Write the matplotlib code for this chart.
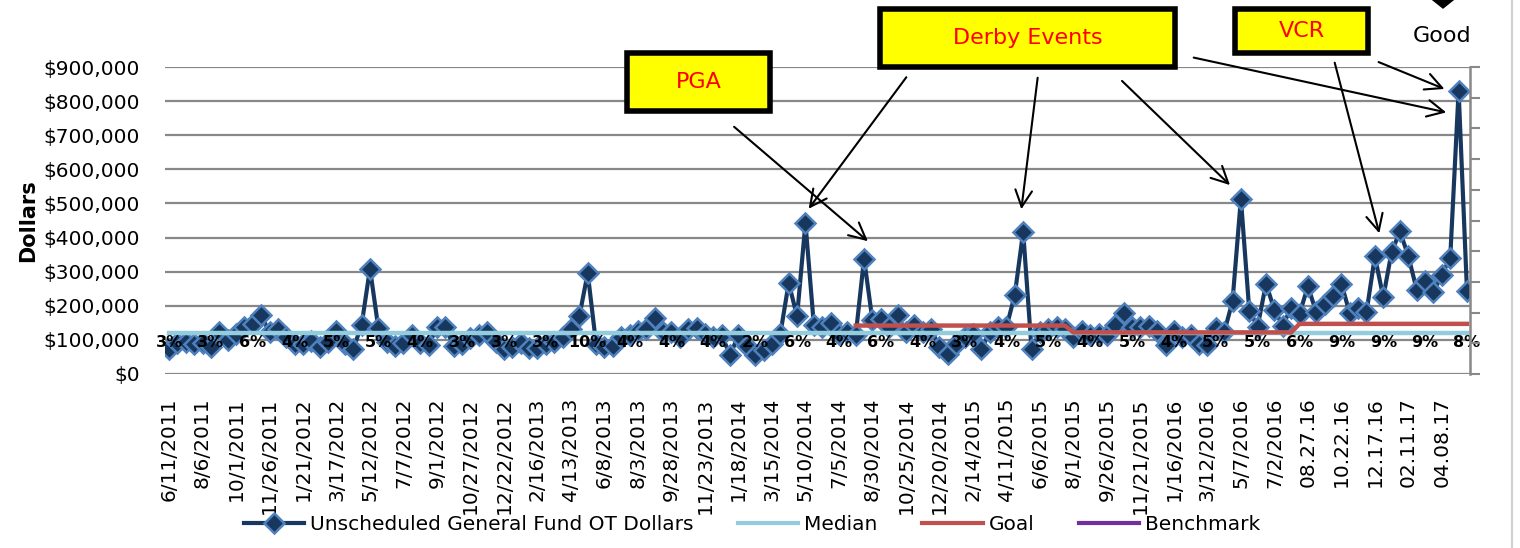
import matplotlib
matplotlib.use("Agg")
import matplotlib.pyplot as plt
from matplotlib.lines import Line2D
from matplotlib.patches import Rectangle, Polygon
from matplotlib.ticker import FuncFormatter

# OT dollars per pay period (in $1,000)
ot_k = [72, 90, 95, 88, 90, 80, 122, 100, 117, 137, 147, 172, 122, 132, 108, 88,
        88, 98, 78, 95, 127, 88, 73, 144, 309, 134, 95, 83, 90, 115, 90, 85,
        137, 137, 83, 88, 105, 115, 122, 95, 73, 78, 90, 75, 75, 88, 95, 108,
        132, 169, 296, 88, 78, 83, 108, 115, 127, 132, 165, 122, 122, 108, 132, 134,
        117, 108, 113, 56, 113, 83, 56, 69, 88, 117, 267, 169, 443, 145, 137, 149,
        117, 122, 113, 338, 157, 162, 137, 172, 122, 145, 122, 132, 78, 59, 88, 108,
        117, 73, 122, 137, 137, 232, 417, 73, 122, 132, 137, 132, 108, 125, 113, 117,
        113, 145, 178, 139, 137, 142, 127, 86, 125, 108, 113, 88, 86, 134, 122, 213,
        514, 186, 139, 265, 188, 142, 194, 176, 257, 181, 206, 230, 265, 178, 194, 181,
        345, 225, 358, 418, 345, 247, 274, 240, 291, 341, 830, 243]
ot = [v * 1000 for v in ot_k]
n = len(ot)

median_val = 121000
# goal changes over time: (start index, end index, value)
goal_steps = [(82, 107, 142000), (108, 134, 122000), (135, 155, 147000)]

pct_labels = ["3%", "3%", "6%", "4%", "5%", "5%", "4%", "3%", "3%", "3%", "10%",
              "4%", "4%", "4%", "2%", "6%", "4%", "6%", "4%", "3%", "4%", "5%",
              "4%", "5%", "4%", "5%", "5%", "6%", "9%", "9%", "9%", "8%"]
pct_every = 5

date_labels = ["6/11/2011", "8/6/2011", "10/1/2011", "11/26/2011", "1/21/2012",
               "3/17/2012", "5/12/2012", "7/7/2012", "9/1/2012", "10/27/2012",
               "12/22/2012", "2/16/2013", "4/13/2013", "6/8/2013", "8/3/2013",
               "9/28/2013", "11/23/2013", "1/18/2014", "3/15/2014", "5/10/2014",
               "7/5/2014", "8/30/2014", "10/25/2014", "12/20/2014", "2/14/2015",
               "4/11/2015", "6/6/2015", "8/1/2015", "9/26/2015", "11/21/2015",
               "1/16/2016", "3/12/2016", "5/7/2016", "7/2/2016", "08.27.16",
               "10.22.16", "12.17.16", "02.11.17", "04.08.17"]
label_every = 4

W, H = 1520, 548
fig = plt.figure(figsize=(W / 100, H / 100), dpi=100)
ax = fig.add_axes([165 / W, 1 - 374 / H, 1305 / W, 307 / H])

def px(x, y):
    # pixel position from top-left -> figure fraction
    return (x / W, 1 - y / H)

x = list(range(n))
ax.plot(x, ot, color="#17375E", lw=3, marker="D", ms=10,
        mfc="#17375E", mec="#4F81BD", mew=1.8, zorder=3,
        label="Unscheduled General Fund OT Dollars")
ax.plot([0, n - 1], [median_val, median_val], color="#93CDDD", lw=3.2,
        zorder=4, label="Median")
gx, gy = [], []
for s, e, v in goal_steps:
    gx += [s, e]
    gy += [v, v]
ax.plot(gx, gy, color="#C0504D", lw=3.2, zorder=5, label="Goal")

for k, lab in enumerate(pct_labels):
    ax.text(k * pct_every, 91000, lab, ha="center", va="center",
            fontsize=11.5, fontweight="bold", zorder=6)

ax.set_xlim(-0.48, 155.36)
ax.set_ylim(0, 900000)
ax.set_yticks(range(0, 900001, 100000))
ax.yaxis.set_major_formatter(FuncFormatter(lambda v, p: "${:,.0f}".format(v)))
ax.set_xticks(range(0, len(date_labels) * label_every, label_every))
ax.set_xticklabels(date_labels, rotation=90, fontsize=14.5)
ax.tick_params(axis="y", length=0, pad=18, labelsize=14.5)
ax.tick_params(axis="x", length=0, pad=17)
ax.grid(axis="y", color="#888888", lw=1.6)
ax.set_axisbelow(True)
for sp in ax.spines.values():
    sp.set_visible(False)
ax.set_ylabel("Dollars", fontsize=15, fontweight="bold")
ax.yaxis.set_label_coords(-0.097, 0.5)

# secondary axis without labels
ax2 = ax.twinx()
ax2.set_ylim(0, 10)
ax2.set_yticks(range(11))
ax2.set_yticklabels([])
ax2.tick_params(axis="y", direction="out", length=7, width=1.5, color="#888888")
for sp in ["top", "left", "bottom"]:
    ax2.spines[sp].set_visible(False)
ax2.spines["right"].set_color("#888888")
ax2.spines["right"].set_linewidth(1.8)

handles = [Line2D([], [], color="#17375E", lw=3, marker="D", ms=10,
                  mfc="#17375E", mec="#4F81BD", mew=1.8),
           Line2D([], [], color="#93CDDD", lw=3),
           Line2D([], [], color="#C0504D", lw=3),
           Line2D([], [], color="#7030A0", lw=3)]
names = ["Unscheduled General Fund OT Dollars", "Median", "Goal", "Benchmark"]
fig.legend(handles, names, loc="center", bbox_to_anchor=px(752, 525), ncol=4,
           frameon=False, fontsize=14.5, handlelength=3.0, handletextpad=0.3,
           columnspacing=2.2)

# callout boxes
boxes = [("PGA", 627, 53, 143, 58),
         ("Derby Events", 880, 9, 295, 58),
         ("VCR", 1235, 9, 133, 44)]
for txt, bx, by, bw, bh in boxes:
    fig.patches.append(Rectangle(px(bx, by + bh), bw / W, bh / H,
                                 transform=fig.transFigure, facecolor="#FFFF00",
                                 edgecolor="black", lw=4))
    fig.text(*px(bx + bw / 2, by + bh / 2), txt, color="red", fontsize=16,
             ha="center", va="center")

arrows = [((732, 125), (870, 243)),
          ((908, 75), (807, 211)),
          ((1038, 75), (1021, 212)),
          ((1120, 79), (1232, 187)),
          ((1191, 57), (1449, 113)),
          ((1334, 60), (1380, 236)),
          ((1376, 61), (1447, 90))]
for tail, head in arrows:
    fig.add_artist(matplotlib.patches.FancyArrowPatch(
        px(*tail), px(*head), transform=fig.transFigure,
        arrowstyle="->", mutation_scale=30, lw=1.5, color="black"))

fig.text(*px(1442, 36), "Good", fontsize=16, ha="center", va="center")
fig.patches.append(Polygon([px(1428, -4), px(1458, -4), px(1443, 8)],
                           closed=True, transform=fig.transFigure,
                           facecolor="black", edgecolor="black"))
fig.add_artist(Line2D([1512 / W, 1512 / W], [0, 1], transform=fig.transFigure,
                      color="#d0d0d0", lw=1.5))

fig.savefig("out.png", dpi=100)
